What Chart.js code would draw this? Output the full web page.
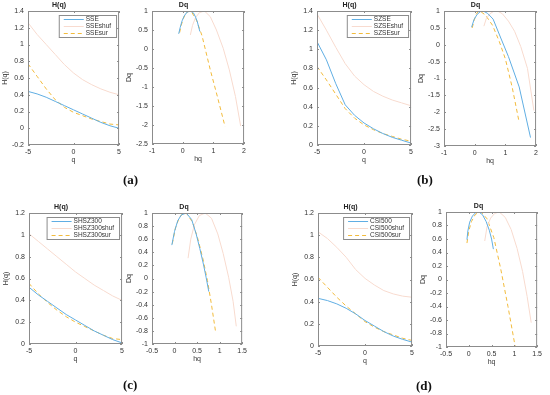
<!DOCTYPE html>
<html>
<head>
<meta charset="utf-8">
<script src="https://cdn.jsdelivr.net/npm/chart.js@4"></script>
<style>
  body { margin: 0; background: #fff; }
  #fig { position: relative; width: 550px; height: 395px; overflow: hidden; }
  .panel { position: absolute; }
  .lab { position: absolute; font: bold 13px "Liberation Serif", serif; color: #111; }
</style>
</head>
<body>
<div id="fig"></div>
<script>
// q grid used by every H(q) curve
const q = [-5, -4, -3, -2, -1, 0, 1, 2, 3, 4, 5];

// (a) SSE
const sseH     = [0.44, 0.41, 0.37, 0.32, 0.27, 0.22, 0.17, 0.12, 0.07, 0.03, 0.0];
const sseShufH = [1.26, 1.12, 1.0, 0.88, 0.76, 0.66, 0.58, 0.52, 0.47, 0.43, 0.40];
const sseSurH  = [0.77, 0.62, 0.47, 0.34, 0.25, 0.19, 0.15, 0.11, 0.08, 0.05, 0.04];
const sseHq     = [-0.13, -0.08, -0.02, 0.05, 0.14, 0.26, 0.35, 0.42, 0.48, 0.52, 0.56];
const sseDq     = [0.40, 0.57, 0.74, 0.87, 0.97, 1.0, 0.95, 0.84, 0.71, 0.58, 0.46];
const sseShufHq = [0.25, 0.32, 0.42, 0.55, 0.71, 0.9, 1.1, 1.32, 1.52, 1.72, 1.89];
const sseShufDq = [0.37, 0.62, 0.83, 0.96, 1.0, 0.85, 0.5, 0.02, -0.55, -1.25, -2.03];
const sseSurHq  = [-0.1, -0.05, 0.02, 0.1, 0.18, 0.27, 0.45, 0.63, 0.9, 1.13, 1.38];
const sseSurDq  = [0.43, 0.62, 0.8, 0.93, 0.99, 1.0, 0.76, 0.35, -0.55, -1.25, -2.04];

// (b) SZSE
const szseH     = [1.08, 0.89, 0.64, 0.42, 0.31, 0.23, 0.17, 0.12, 0.08, 0.05, 0.02];
const szseShufH = [1.37, 1.2, 1.02, 0.85, 0.72, 0.63, 0.56, 0.51, 0.47, 0.44, 0.41];
const szseSurH  = [0.82, 0.68, 0.53, 0.38, 0.28, 0.21, 0.16, 0.12, 0.09, 0.06, 0.04];
const szseHq     = [-0.1, -0.02, 0.08, 0.18, 0.28, 0.42, 0.6, 0.85, 1.1, 1.45, 1.82];
const szseDq     = [0.52, 0.75, 0.9, 0.98, 1.0, 0.93, 0.76, 0.2, -0.35, -1.25, -2.75];
const szseShufHq = [0.3, 0.38, 0.5, 0.62, 0.74, 0.9, 1.1, 1.3, 1.5, 1.72, 1.93];
const szseShufDq = [0.55, 0.78, 0.92, 0.99, 1.0, 0.92, 0.7, 0.4, -0.05, -0.7, -1.95];
const szseSurHq  = [-0.08, -0.02, 0.05, 0.12, 0.2, 0.35, 0.58, 0.8, 1.0, 1.22, 1.45];
const szseSurDq  = [0.5, 0.72, 0.9, 1.0, 0.98, 0.88, 0.58, 0.1, -0.42, -1.25, -2.3];

// (c) SHSZ300
const hsH     = [0.52, 0.45, 0.39, 0.33, 0.27, 0.22, 0.17, 0.12, 0.08, 0.04, 0.01];
const hsShufH = [1.01, 0.94, 0.87, 0.8, 0.73, 0.66, 0.6, 0.54, 0.49, 0.44, 0.40];
const hsSurH  = [0.555, 0.46, 0.38, 0.31, 0.25, 0.2, 0.16, 0.12, 0.08, 0.05, 0.04];
const hsHq     = [-0.06, 0.0, 0.07, 0.15, 0.26, 0.38, 0.48, 0.56, 0.64, 0.7, 0.76];
const hsDq     = [0.51, 0.72, 0.88, 0.97, 1.0, 0.9, 0.68, 0.46, 0.22, 0.02, -0.2];
const hsShufHq = [0.3, 0.36, 0.44, 0.55, 0.68, 0.82, 0.96, 1.08, 1.2, 1.3, 1.37];
const hsShufDq = [0.31, 0.6, 0.82, 0.96, 1.0, 0.92, 0.68, 0.38, 0.02, -0.35, -0.73];
const hsSurHq  = [-0.05, 0.02, 0.1, 0.18, 0.26, 0.4, 0.52, 0.63, 0.73, 0.82, 0.91];
const hsSurDq  = [0.53, 0.77, 0.92, 0.99, 1.0, 0.86, 0.6, 0.3, -0.03, -0.4, -0.81];

// (d) CSI500
const csiH     = [0.43, 0.41, 0.38, 0.34, 0.29, 0.23, 0.18, 0.13, 0.09, 0.06, 0.035];
const csiShufH = [1.03, 0.97, 0.89, 0.8, 0.69, 0.61, 0.55, 0.5, 0.47, 0.45, 0.44];
const csiSurH  = [0.62, 0.53, 0.44, 0.36, 0.29, 0.22, 0.17, 0.13, 0.1, 0.07, 0.05];
const csiHq     = [-0.04, -0.02, 0.02, 0.08, 0.15, 0.22, 0.3, 0.38, 0.45, 0.5, 0.54];
const csiDq     = [0.59, 0.72, 0.85, 0.94, 0.99, 1.0, 0.96, 0.86, 0.73, 0.6, 0.45];
const csiShufHq = [0.35, 0.4, 0.48, 0.57, 0.67, 0.8, 0.93, 1.06, 1.18, 1.28, 1.37];
const csiShufDq = [0.57, 0.78, 0.91, 0.98, 1.0, 0.92, 0.74, 0.46, 0.12, -0.25, -0.64];
const csiSurHq  = [-0.04, 0.0, 0.06, 0.14, 0.2, 0.27, 0.4, 0.55, 0.7, 0.86, 1.02];
const csiSurDq  = [0.54, 0.72, 0.86, 0.96, 0.99, 1.0, 0.9, 0.62, 0.16, -0.4, -1.0];

const BLUE = '#60aee3';
const SHUF = '#f8dbcf';
const SUR = '#f2bb3c';
const FONT = '"Liberation Sans", Arial, sans-serif';

const pairs = (xs, ys) => xs.map((x, i) => ({ x: x, y: ys[i] }));
const fmt = v => String(Number(v.toFixed(2)));

// axes box + inward ticks + legend inside the plot (MATLAB look)
const frame = {
  id: 'frame',
  afterDraw(chart, args, opts) {
    const { ctx, chartArea: a, scales } = chart;
    ctx.save();
    ctx.strokeStyle = '#8c8c8c';
    ctx.lineWidth = 1;
    ctx.strokeRect(a.left + 0.5, a.top + 0.5, a.right - a.left - 1, a.bottom - a.top - 1);
    ctx.beginPath();
    scales.x.ticks.forEach(t => {
      const px = Math.round(scales.x.getPixelForValue(t.value)) + 0.5;
      ctx.moveTo(px, a.bottom); ctx.lineTo(px, a.bottom - 2);
      ctx.moveTo(px, a.top); ctx.lineTo(px, a.top + 2);
    });
    scales.y.ticks.forEach(t => {
      const py = Math.round(scales.y.getPixelForValue(t.value)) + 0.5;
      ctx.moveTo(a.left, py); ctx.lineTo(a.left + 2, py);
      ctx.moveTo(a.right, py); ctx.lineTo(a.right - 2, py);
    });
    ctx.stroke();

    if (opts.legend) {
      const ds = chart.data.datasets;
      ctx.font = '6.5px ' + FONT;
      const tw = Math.max(...ds.map(d => ctx.measureText(d.label).width));
      const w = 27 + tw + 5, h = 22;
      const x0 = a.right - 3 - w, y0 = a.top + 4;
      ctx.fillStyle = '#fff';
      ctx.fillRect(x0, y0, w, h);
      ctx.strokeStyle = '#8c8c8c';
      ctx.strokeRect(x0 + 0.5, y0 + 0.5, w, h);
      ds.forEach((d, i) => {
        const yy = y0 + 4.5 + i * 7;
        ctx.strokeStyle = d.borderColor;
        ctx.lineWidth = d.borderWidth;
        ctx.setLineDash(d.borderDash || []);
        ctx.beginPath(); ctx.moveTo(x0 + 5, yy); ctx.lineTo(x0 + 25, yy); ctx.stroke();
        ctx.setLineDash([]);
        ctx.fillStyle = '#333';
        ctx.textBaseline = 'middle';
        ctx.fillText(d.label, x0 + 27, yy);
      });
    }
    ctx.restore();
  }
};

const YW = 30, TH = 12, XH = 20, RP = 4;

function panel(box, title, xTitle, yTitle, xs, ys, series, legend) {
  const div = document.createElement('div');
  div.className = 'panel';
  const w = box.r - box.l + YW + RP, h = box.b - box.t + TH + XH;
  div.style.left = (box.l - YW) + 'px';
  div.style.top = (box.t - TH) + 'px';
  const cv = document.createElement('canvas');
  cv.width = w; cv.height = h;
  div.appendChild(cv);
  document.getElementById('fig').appendChild(div);

  const tickFont = { family: FONT, size: 7 };
  new Chart(cv.getContext('2d'), {
    type: 'scatter',
    data: {
      datasets: series.map(s => ({
        label: s.label,
        data: s.data,
        showLine: true,
        borderColor: s.color,
        borderWidth: s.width || 1,
        borderDash: s.dash,
        pointRadius: 0,
        tension: 0
      }))
    },
    options: {
      responsive: false,
      animation: false,
      layout: { padding: { top: 0, right: RP, left: 0, bottom: 0 } },
      plugins: {
        legend: { display: false },
        tooltip: { enabled: false },
        title: {
          display: true, text: title, color: '#222',
          font: { family: FONT, size: 7, weight: 'bold' },
          padding: { top: 1.6, bottom: 2 }
        },
        frame: { legend: legend }
      },
      scales: {
        x: {
          type: 'linear', min: xs.min, max: xs.max,
          ticks: { stepSize: xs.step, color: '#333', font: tickFont, padding: 3, maxRotation: 0, callback: fmt },
          grid: { display: false, drawTicks: false },
          border: { display: false },
          title: { display: true, text: xTitle, color: '#333', font: tickFont, padding: { top: 0, bottom: 1 } },
          afterFit: s => { s.height = XH; }
        },
        y: {
          min: ys.min, max: ys.max,
          ticks: { stepSize: ys.step, color: '#333', font: tickFont, padding: 4, callback: fmt },
          grid: { display: false, drawTicks: false },
          border: { display: false },
          title: { display: true, text: yTitle, color: '#333', font: tickFont, padding: { top: 3, bottom: 0 } },
          afterFit: s => { s.width = YW; }
        }
      }
    },
    plugins: [frame]
  });
}

function hSeries(name, main, shuf, sur) {
  return [
    { label: name, data: pairs(q, main), color: BLUE },
    { label: name + 'shuf', data: pairs(q, shuf), color: SHUF },
    { label: name + 'sur', data: pairs(q, sur), color: SUR, dash: [4, 3] }
  ];
}
function dSeries(a, b, c, d, e, f) {
  return [
    { label: 'main', data: pairs(a, b), color: BLUE },
    { label: 'shuf', data: pairs(c, d), color: SHUF },
    { label: 'sur', data: pairs(e, f), color: SUR, dash: [4, 3] }
  ];
}

const qAxis = { min: -5, max: 5, step: 5 };

panel({ l: 28, t: 11, r: 120, b: 145 }, 'H(q)', 'q', 'H(q)', qAxis, { min: -0.2, max: 1.4, step: 0.2 },
  hSeries('SSE', sseH, sseShufH, sseSurH), true);
panel({ l: 152, t: 11, r: 245, b: 144 }, 'Dq', 'hq', 'Dq', { min: -1, max: 2, step: 1 }, { min: -2.5, max: 1, step: 0.5 },
  dSeries(sseHq, sseDq, sseShufHq, sseShufDq, sseSurHq, sseSurDq), false);
panel({ l: 317, t: 11, r: 412, b: 145 }, 'H(q)', 'q', 'H(q)', qAxis, { min: 0, max: 1.4, step: 0.2 },
  hSeries('SZSE', szseH, szseShufH, szseSurH), true);
panel({ l: 444, t: 11, r: 537, b: 146 }, 'Dq', 'hq', 'Dq', { min: -1, max: 2, step: 1 }, { min: -3, max: 1, step: 0.5 },
  dSeries(szseHq, szseDq, szseShufHq, szseShufDq, szseSurHq, szseSurDq), false);
panel({ l: 29, t: 213, r: 123, b: 344 }, 'H(q)', 'q', 'H(q)', qAxis, { min: 0, max: 1.2, step: 0.2 },
  hSeries('SHSZ300', hsH, hsShufH, hsSurH), true);
panel({ l: 152, t: 213, r: 246, b: 344 }, 'Dq', 'hq', 'Dq', { min: -0.5, max: 1.5, step: 0.5 }, { min: -1, max: 1, step: 0.2 },
  dSeries(hsHq, hsDq, hsShufHq, hsShufDq, hsSurHq, hsSurDq), false);
panel({ l: 318, t: 213, r: 413, b: 346 }, 'H(q)', 'q', 'H(q)', qAxis, { min: 0, max: 1.2, step: 0.2 },
  hSeries('CSI500', csiH, csiShufH, csiSurH), true);
panel({ l: 446, t: 212, r: 541, b: 347 }, 'Dq', 'hq', 'Dq', { min: -0.5, max: 1.5, step: 0.5 }, { min: -1, max: 1, step: 0.2 },
  dSeries(csiHq, csiDq, csiShufHq, csiShufDq, csiSurHq, csiSurDq), false);

// sub-figure captions
[['(a)', 123, 172], ['(b)', 417, 172], ['(c)', 123, 377], ['(d)', 416, 378]].forEach(([t, x, y]) => {
  const el = document.createElement('div');
  el.className = 'lab';
  el.textContent = t;
  el.style.left = x + 'px';
  el.style.top = y + 'px';
  document.getElementById('fig').appendChild(el);
});
</script>
</body>
</html>
